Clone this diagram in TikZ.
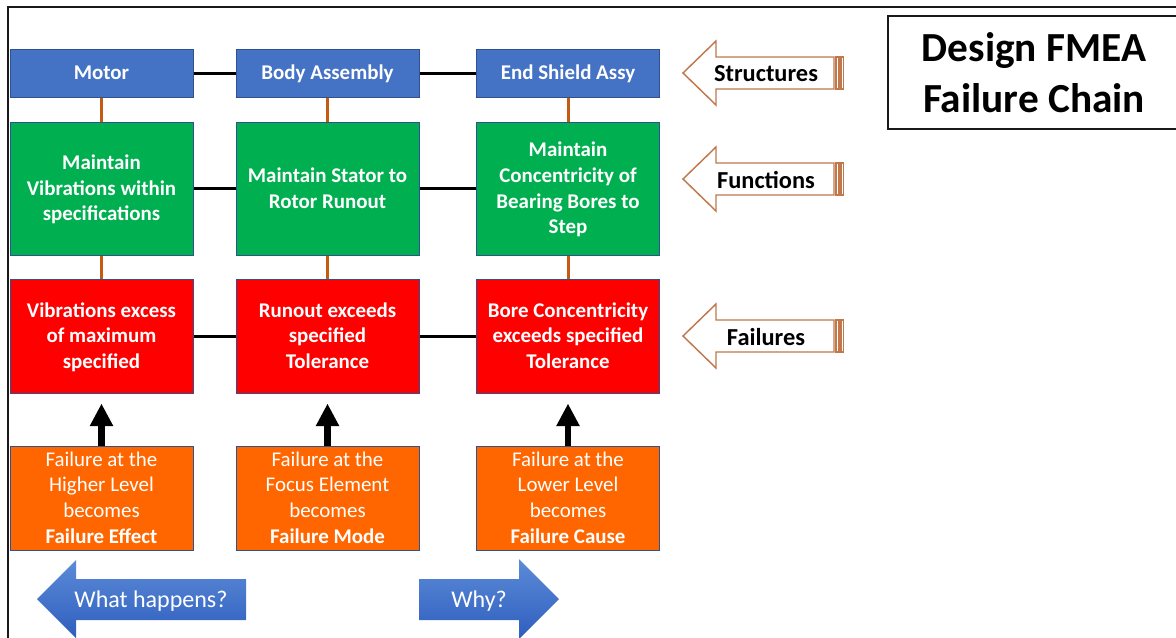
\documentclass[tikz,border=0pt]{standalone}
\usepackage{fontspec}
\setmainfont{Carlito}
\usetikzlibrary{arrows.meta}

% one screen pixel
\newdimen\pxu \pxu=0.75pt

\definecolor{boxblue}{HTML}{4472C4}
\definecolor{boxedge}{HTML}{2F528F}
\definecolor{boxgreen}{HTML}{00B050}
\definecolor{boxred}{HTML}{FF0000}
\definecolor{boxorange}{HTML}{FF6600}
\definecolor{rust}{HTML}{C55A11}
\definecolor{outlinebrown}{HTML}{C0784C}
\definecolor{gradtop}{HTML}{5C8BD8}
\definecolor{gradbot}{HTML}{2E5EBE}
\definecolor{framegray}{HTML}{1A1A1A}

\tikzset{
  stripedleft/.pic={
    \draw[outlinearrow] (0,0) -- (33,-32) -- (33,-16) -- (151,-16) -- (151,16)
      -- (33,16) -- (33,32) -- cycle;
    \draw[outlinearrow] (153,-16) rectangle (156,16);
    \draw[outlinearrow] (158,-16) rectangle (160.5,16);
  }
}

\begin{document}
\begin{tikzpicture}[x=0.75pt, y=-0.75pt,
  box/.style={draw=boxedge, line width=0.75pt, inner sep=0pt, align=center,
    text=white, minimum width=183\pxu, text depth=0.9pt,
    font=\fontsize{15.7}{19.2}\selectfont\bfseries},
  structbox/.style={box, fill=boxblue, minimum height=48\pxu},
  funcbox/.style={box, fill=boxgreen, minimum height=133\pxu},
  failbox/.style={box, fill=boxred, minimum height=114\pxu},
  notebox/.style={box, fill=boxorange, minimum height=104\pxu,
    font=\fontsize{15.7}{19.2}\selectfont},
  link/.style={line width=2.25pt, black},
  tie/.style={line width=2.25pt, rust},
  uparrow/.style={line width=5.2pt, black,
    -{Triangle[width=16.5pt, length=17pt]}, shorten >=7.5pt},
  outlinearrow/.style={draw=outlinebrown, fill=white, line width=1.1pt,
    line join=miter},
  lbl/.style={inner sep=0pt, font=\fontsize{18.3}{22}\selectfont\bfseries},
  arrowtext/.style={inner sep=0pt, text=white,
    font=\fontsize{18}{21}\selectfont},
  frameline/.style={line width=1.5pt, framegray}
]
\useasboundingbox (0,0) rectangle (1176,637);

% page frame
\draw[frameline] (8,645) -- (8,7) -- (1185,7);

% title
\node[draw=framegray, line width=1pt, minimum width=292\pxu,
  minimum height=113\pxu, inner sep=0pt, align=center,
  font=\fontsize{31}{38}\selectfont\bfseries]
  (title) at (1034,72.5) {Design FMEA\\Failure Chain};

% structures
\node[structbox] (s1) at (101.5,73) {Motor};
\node[structbox] (s2) at (327.5,73) {Body Assembly};
\node[structbox] (s3) at (568,73) {End Shield Assy};

% functions
\node[funcbox] (f1) at (101.5,188.5) {Maintain\\Vibrations within\\specifications};
\node[funcbox] (f2) at (327.5,188.5) {Maintain Stator to\\Rotor Runout};
\node[funcbox] (f3) at (568,188.5) {Maintain\\Concentricity of\\Bearing Bores to\\Step};

% failures
\node[failbox] (e1) at (101.5,336) {Vibrations excess\\of maximum\\specified};
\node[failbox] (e2) at (327.5,336) {Runout exceeds\\specified\\Tolerance};
\node[failbox] (e3) at (568,336) {Bore Concentricity\\exceeds specified\\Tolerance};

% explanations
\node[notebox] (n1) at (101.5,498) {Failure at the\\Higher Level\\becomes\\\textbf{Failure Effect}};
\node[notebox] (n2) at (327.5,498) {Failure at the\\Focus Element\\becomes\\\textbf{Failure Mode}};
\node[notebox] (n3) at (568,498) {Failure at the\\Lower Level\\becomes\\\textbf{Failure Cause}};

% horizontal links
\draw[link] (s1.east) -- (s2.west);
\draw[link] (s2.east) -- (s3.west);
\draw[link] (f1.east) -- (f2.west);
\draw[link] (f2.east) -- (f3.west);
\draw[link] (e1.east) -- (e2.west);
\draw[link] (e2.east) -- (e3.west);

% vertical ties
\foreach \c in {1,2,3} {
  \draw[tie] (s\c.south) -- (f\c.north);
  \draw[tie] (f\c.south) -- (e\c.north);
  \draw[uparrow] (n\c.north) -- (e\c.south);
}

% level labels
\pic at (683,73) {stripedleft};
\node[lbl] (lstruct) at (766,74) {Structures};
\pic at (683,179) {stripedleft};
\node[lbl] (lfunc) at (766,180) {Functions};
\pic at (683,336) {stripedleft};
\node[lbl] (lfail) at (766,337) {Failures};

% direction arrows
\begin{scope}
  \clip (0,0) rectangle (1176,637);
  \shade[top color=gradtop, bottom color=gradbot]
    (37,599) -- (76,560) -- (76,579) -- (246,579) -- (246,620)
    -- (76,620) -- (76,638) -- cycle;
  \shade[top color=gradtop, bottom color=gradbot]
    (419,579) -- (519,579) -- (519,559) -- (559,599) -- (519,639)
    -- (519,620) -- (419,620) -- cycle;
\end{scope}
\node[arrowtext] (whathappens) at (151,601) {What happens?};
\node[arrowtext] (why) at (479,601) {Why?};
\end{tikzpicture}
\end{document}
